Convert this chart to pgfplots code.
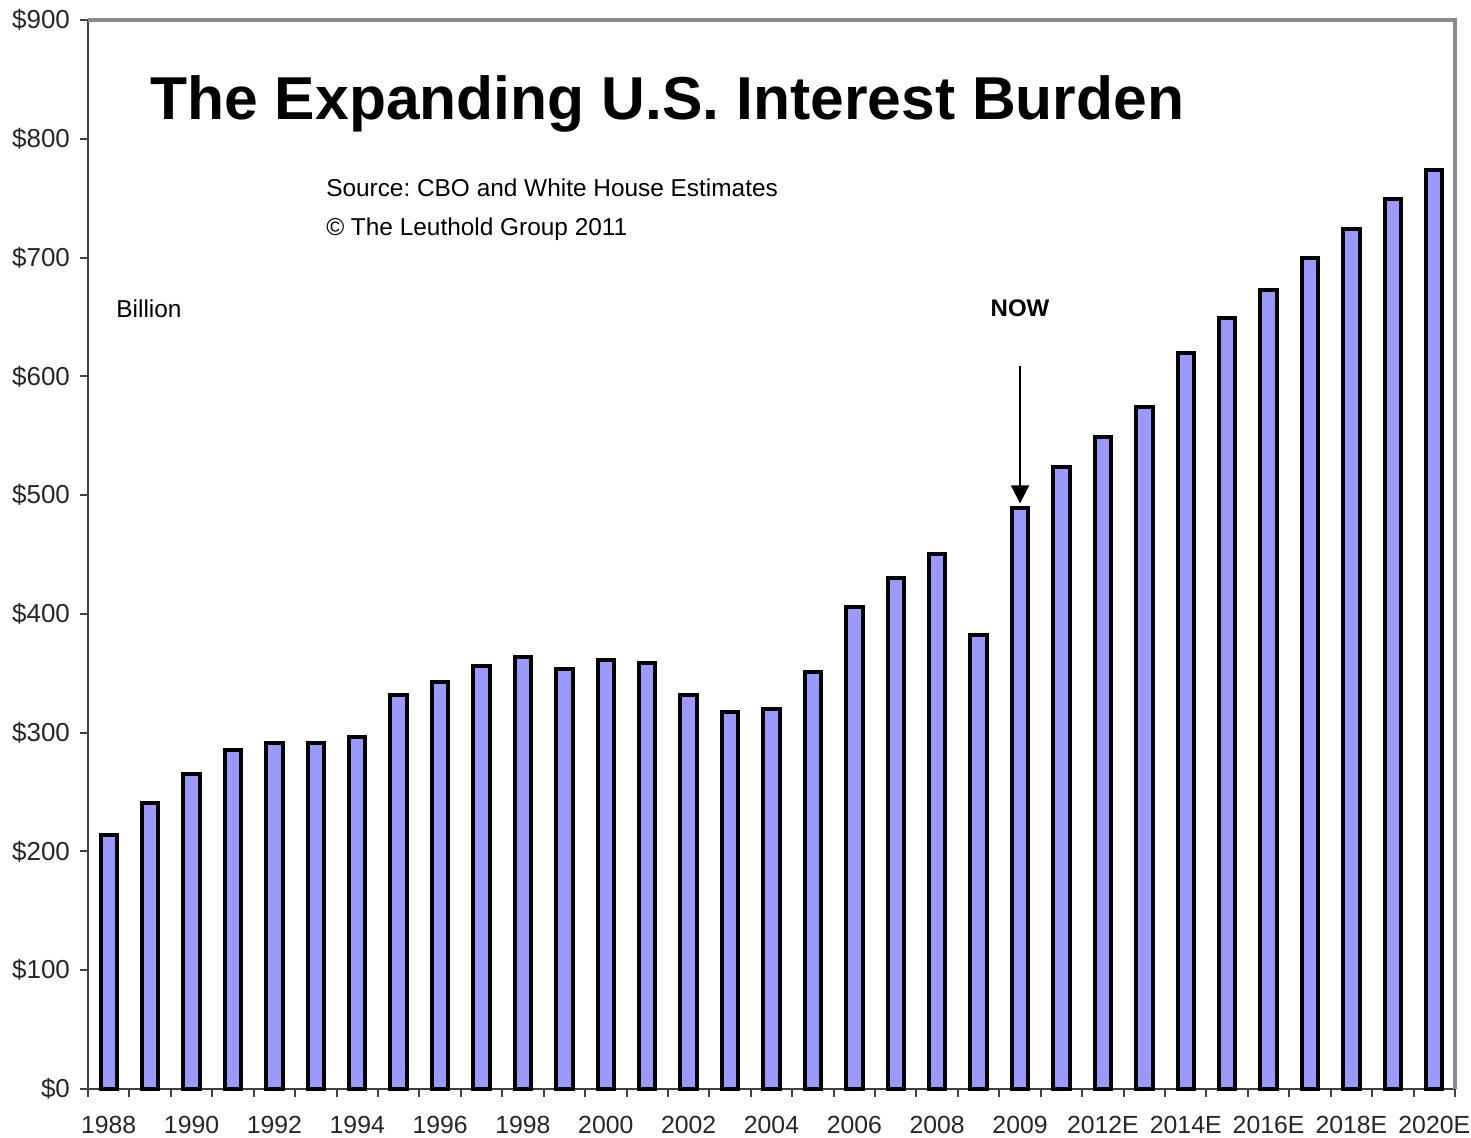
\documentclass[border=0pt]{standalone}
\usepackage{pgfplots}
\pgfplotsset{compat=1.18}
\usepackage{fontspec}
\setmainfont{Liberation Sans}
\usetikzlibrary{arrows.meta}
\definecolor{barfill}{HTML}{9999FF}
\definecolor{axgray}{HTML}{404040}
\definecolor{bordergray}{HTML}{8A8A8A}
\frenchspacing
\begin{document}
\begin{tikzpicture}
\useasboundingbox (-44pt,-24.5pt) rectangle (691.5pt,544.5pt);
\begin{axis}[
  at={(0,0)}, anchor=south west,
  scale only axis, width=683.5pt, height=534.5pt,
  xmin=-0.5, xmax=32.5, ymin=0, ymax=900,
  axis lines*=left,
  axis line style={draw=axgray, line width=1pt},
  every outer x axis line/.append style={-}, every outer y axis line/.append style={-},
  tick align=outside,
  ytick={0,100,...,900},
  yticklabels={\$0,\$100,\$200,\$300,\$400,\$500,\$600,\$700,\$800,\$900},
  major tick length=4pt,
  tick style={draw=axgray, line width=1pt},
  xtick={-0.5,0.5,...,32.5},
  xticklabels={},
  extra x ticks={0,2,...,32},
  extra x tick labels={1988,1990,1992,1994,1996,1998,2000,2002,2004,2006,2008,2009,2012E,2014E,2016E,2018E,2020E},
  extra x tick style={major tick length=0pt, tick style={draw=none}},
  ticklabel style={text=black!85},
  yticklabel style={font=\fontsize{13}{15}\selectfont, xshift=-1.5pt},
  xticklabel style={font=\fontsize{12.4}{14}\selectfont, yshift=-10pt},
  /pgf/number format/assume math mode=true,
  ybar, bar width=8.2pt,
  clip=false,
]
\addplot[ybar, fill=barfill, draw=black, line width=2pt] coordinates {
(0,214) (1,241) (2,265) (3,285) (4,291) (5,291) (6,296) (7,332) (8,343) (9,356)
(10,364) (11,354) (12,361) (13,359) (14,332) (15,317) (16,320) (17,351) (18,406) (19,430)
(20,450) (21,382) (22,489) (23,524) (24,549) (25,574) (26,620) (27,649) (28,673) (29,700)
(30,724) (31,749) (32,774)
};
\draw[bordergray, line width=2pt] (rel axis cs:0,1) -- (rel axis cs:1,1) -- (rel axis cs:1,0);
\node[inner sep=0pt, anchor=base west, font=\fontsize{30.3}{34}\selectfont\bfseries] at (rel axis cs:0.0454,0.9065) {The Expanding U.S. Interest Burden};
\node[inner sep=0pt, anchor=base west, font=\fontsize{12.2}{14}\selectfont] at (rel axis cs:0.174,0.835) {Source: CBO and White House Estimates};
\node[inner sep=0pt, anchor=base west, font=\fontsize{12.2}{14}\selectfont] at (rel axis cs:0.174,0.798) {© The Leuthold Group 2011};
\node[inner sep=0pt, anchor=base west, font=\fontsize{12.2}{14}\selectfont] at (rel axis cs:0.0205,0.722) {Billion};
\node[inner sep=0pt, anchor=base, font=\fontsize{12}{14}\selectfont\bfseries] at (axis cs:22,650) {NOW};
\draw[-{Triangle[width=9pt,length=9pt]}, line width=1pt] (axis cs:22,609) -- (axis cs:22,493);
\end{axis}
\end{tikzpicture}
\end{document}
